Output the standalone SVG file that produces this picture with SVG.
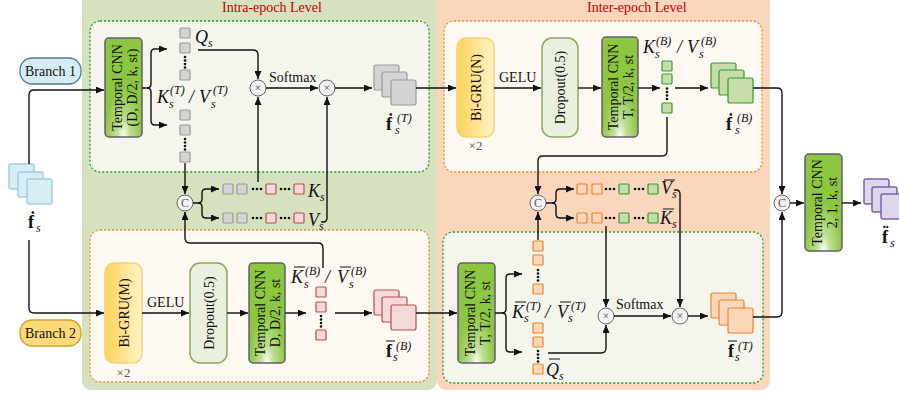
<svg xmlns="http://www.w3.org/2000/svg" width="899" height="396" viewBox="0 0 899 396">
<defs>
<marker id="ah" viewBox="0 0 8 7" refX="8" refY="3.5" markerWidth="8" markerHeight="7" markerUnits="userSpaceOnUse" orient="auto"><path d="M0,0 L8,3.5 L0,7 z" fill="#111"/></marker>
<linearGradient id="gBi" x1="0" y1="0" x2="1" y2="0"><stop offset="0" stop-color="#fdd256"/><stop offset="1" stop-color="#fff3c9"/></linearGradient>
<radialGradient id="gT" cx="0.5" cy="1" r="0.5" fx="0.5" fy="1"><stop offset="0" stop-color="#ffffff"/><stop offset="0.35" stop-color="#bfdf95"/><stop offset="1" stop-color="#8dc641"/></radialGradient>
<style>
text{font-family:"Liberation Serif","Times New Roman",serif;fill:#111}
.conn path{fill:none;stroke:#111;stroke-width:1.4}
.conn .a{marker-end:url(#ah)}
.bt{font-size:14px;text-anchor:middle}
.lbl{font-size:14px}
.x2{font-size:13px;fill:#555;text-anchor:middle}
.ttl{font-size:14px;fill:#c00000}
.mi{font-style:italic;font-size:18px}
.sl{font-size:18px;font-style:italic}
.sb{font-style:italic;font-size:12px}
.bf{font-weight:bold;font-size:18px}
.bar{stroke:#111;stroke-width:1}
.tc{fill:url(#gT);stroke:#5f5f70;stroke-width:1.5}
.bi{fill:url(#gBi);stroke:#f3d47a;stroke-width:1.5}
.dp{fill:#e9f1de;stroke:#89a85e;stroke-width:1.5}
.sg{fill:#d4d4d4;stroke:#9a9a9a;stroke-width:1.2}
.sp{fill:#f3d9d9;stroke:#b5524f;stroke-width:1.2}
.sgr{fill:#c7dca8;stroke:#2ea02e;stroke-width:1.2}
.so{fill:#fcd8bb;stroke:#f08228;stroke-width:1.2}
.sbl{fill:#d9edf4;stroke:#9fd0e2;stroke-width:1.5}
.spu{fill:#ded6ec;stroke:#7b62a8;stroke-width:1.5}
.dot{fill:#111}
.op{fill:#f2f2f2;stroke:#666;stroke-width:1}
.opt{font-size:12px;fill:#555;text-anchor:middle}
.gbox{fill:#f4f6ee;stroke:#1fa01f;stroke-width:1.3;stroke-dasharray:2 2}
.obox{fill:#fdf8f2;stroke:#f08a30;stroke-width:1.3;stroke-dasharray:2 2}
</style>
</defs>

<!-- backgrounds -->
<g id="intra-level">
<rect x="82" y="-10" width="355" height="400" rx="9" fill="#d6e1c0"/>
<text class="ttl" x="222" y="12">Intra-epoch Level</text>
</g>
<g id="inter-level">
<rect x="437" y="-10" width="333" height="400" rx="9" fill="#f9d6bc"/>
<text class="ttl" x="587" y="12">Inter-epoch Level</text>
</g>
<rect class="gbox" x="90" y="21" width="339" height="151" rx="10"/>
<rect class="obox" x="90" y="230" width="339" height="152" rx="10"/>
<rect class="obox" x="444" y="21" width="318" height="151" rx="10"/>
<rect class="gbox" x="443" y="232" width="320" height="151" rx="10"/>

<!-- input -->
<g id="input">
<rect class="sbl" x="9" y="164" width="25" height="25" rx="2"/>
<rect class="sbl" x="18" y="172" width="25" height="25" rx="2"/>
<rect class="sbl" x="27" y="179" width="25" height="25" rx="2"/>
<text class="bf" x="28" y="228">ḟ</text><text class="sb" x="36" y="232">s</text>
</g>
<g id="branch1">
<rect x="20" y="58" width="61" height="26" rx="12" fill="#d6ebf2" stroke="#4d7f8e" stroke-width="1.3"/>
<text class="lbl" x="50.5" y="76" text-anchor="middle" font-size="13.5">Branch 1</text>
</g>
<g id="branch2">
<rect x="20" y="320" width="61" height="26" rx="12" fill="#fbd978" stroke="#c9a133" stroke-width="1.3"/>
<text class="lbl" x="50.5" y="338" text-anchor="middle" font-size="13.5">Branch 2</text>
</g>

<!-- intra top -->
<g id="tcnn-intra">
<rect class="tc" x="105" y="38" width="37" height="99" rx="4"/>
<text class="bt" transform="translate(123.5,87.5) rotate(-90)"><tspan x="0" y="-2">Temporal CNN</tspan><tspan x="0" y="13">(D, D/2, k, st)</tspan></text>
</g>
<g id="q-col">
<rect class="sg" x="180" y="28" width="10" height="10" rx="1"/>
<rect class="sg" x="180" y="43" width="10" height="10" rx="1"/>
<circle class="dot" cx="185" cy="57" r="1.3"/><circle class="dot" cx="185" cy="60.5" r="1.3"/><circle class="dot" cx="185" cy="64" r="1.3"/><circle class="dot" cx="185" cy="67.5" r="1.3"/>
<rect class="sg" x="180" y="70" width="10" height="10" rx="1"/>
<text class="mi" x="195" y="43">Q</text><text class="sb" x="208" y="47">s</text>
</g>
<g id="kv-col">
<rect class="sg" x="180" y="110" width="10" height="10" rx="1"/>
<rect class="sg" x="180" y="125" width="10" height="10" rx="1"/>
<circle class="dot" cx="185" cy="139" r="1.3"/><circle class="dot" cx="185" cy="142.5" r="1.3"/><circle class="dot" cx="185" cy="146" r="1.3"/><circle class="dot" cx="185" cy="149.5" r="1.3"/>
<rect class="sg" x="180" y="152" width="10" height="10" rx="1"/>
<text class="mi" x="157" y="103">K</text><text class="sb" x="169" y="108">s</text><text class="sb" x="170" y="94">(T)</text>
<text class="sl" x="189" y="103">/</text>
<text class="mi" x="199" y="103">V</text><text class="sb" x="211" y="108">s</text><text class="sb" x="213" y="94">(T)</text>
</g>
<g id="mul1"><circle class="op" cx="258" cy="88" r="8"/><text class="opt" x="258" y="92">×</text></g>
<g id="mul2"><circle class="op" cx="327" cy="88" r="8"/><text class="opt" x="327" y="92">×</text></g>
<text class="lbl" x="269" y="82">Softmax</text>
<g id="f-T">
<rect class="sg" x="374" y="65" width="25" height="25" rx="2"/>
<rect class="sg" x="382" y="72" width="25" height="25" rx="2"/>
<rect class="sg" x="391" y="80" width="25" height="25" rx="2"/>
<text class="bf" x="386" y="130">ḟ</text><text class="sb" x="395" y="134">s</text><text class="sb" x="397" y="122">(T)</text>
</g>

<!-- intra concat -->
<g id="concat1"><circle class="op" cx="185" cy="203" r="8"/><text class="opt" x="185" y="207" font-size="10">C</text></g>
<g id="ks-row">
<rect class="sg" x="223" y="184" width="10" height="10" rx="1"/><rect class="sg" x="237" y="184" width="10" height="10" rx="1"/>
<circle class="dot" cx="253" cy="189" r="1.3"/><circle class="dot" cx="257" cy="189" r="1.3"/><circle class="dot" cx="261" cy="189" r="1.3"/>
<rect class="sp" x="266" y="184" width="10" height="10" rx="1"/>
<circle class="dot" cx="281" cy="189" r="1.3"/><circle class="dot" cx="285" cy="189" r="1.3"/><circle class="dot" cx="289" cy="189" r="1.3"/>
<rect class="sp" x="294" y="184" width="10" height="10" rx="1"/>
<text class="mi" x="308" y="197">K</text><text class="sb" x="320" y="201">s</text>
</g>
<g id="vs-row">
<rect class="sg" x="223" y="213" width="10" height="10" rx="1"/><rect class="sg" x="237" y="213" width="10" height="10" rx="1"/>
<circle class="dot" cx="253" cy="218" r="1.3"/><circle class="dot" cx="257" cy="218" r="1.3"/><circle class="dot" cx="261" cy="218" r="1.3"/>
<rect class="sp" x="266" y="213" width="10" height="10" rx="1"/>
<circle class="dot" cx="281" cy="218" r="1.3"/><circle class="dot" cx="285" cy="218" r="1.3"/><circle class="dot" cx="289" cy="218" r="1.3"/>
<rect class="sp" x="294" y="213" width="10" height="10" rx="1"/>
<text class="mi" x="308" y="226">V</text><text class="sb" x="319" y="230">s</text>
</g>

<!-- intra bottom -->
<g id="bigru-m">
<rect class="bi" x="105" y="263" width="37" height="100" rx="9"/>
<text class="bt" transform="translate(123.5,313) rotate(-90)" y="5">Bi-GRU(M)</text>
<text class="x2" x="123.5" y="377">×2</text>
</g>
<text class="lbl" x="147" y="307">GELU</text>
<g id="dropout-m">
<rect class="dp" x="190" y="263" width="37" height="100" rx="10"/>
<text class="bt" transform="translate(208.5,313) rotate(-90)" y="5">Dropout(0.5)</text>
</g>
<g id="tcnn-d">
<rect class="tc" x="249" y="263" width="36" height="100" rx="4"/>
<text class="bt" transform="translate(267,313) rotate(-90)"><tspan x="0" y="-2">Temporal CNN</tspan><tspan x="0" y="13">D, D/2, k, st</tspan></text>
</g>
<g id="kvb-col">
<rect class="sp" x="316" y="287" width="10" height="10" rx="1"/>
<rect class="sp" x="316" y="302" width="10" height="10" rx="1"/>
<circle class="dot" cx="321" cy="316" r="1.3"/><circle class="dot" cx="321" cy="319.5" r="1.3"/><circle class="dot" cx="321" cy="323" r="1.3"/><circle class="dot" cx="321" cy="326.5" r="1.3"/>
<rect class="sp" x="316" y="330" width="10" height="10" rx="1"/>
<text class="mi" x="291" y="283">K</text><line class="bar" x1="294" y1="267" x2="305" y2="267"/><text class="sb" x="304" y="288">s</text><text class="sb" x="305" y="275">(B)</text>
<text class="sl" x="325" y="283">/</text>
<text class="mi" x="337" y="283">V</text><line class="bar" x1="340" y1="267" x2="351" y2="267"/><text class="sb" x="349" y="288">s</text><text class="sb" x="351" y="275">(B)</text>
</g>
<g id="f-B-bar">
<rect class="sp" x="374" y="290" width="25" height="25" rx="2"/>
<rect class="sp" x="382" y="297" width="25" height="25" rx="2"/>
<rect class="sp" x="391" y="305" width="25" height="25" rx="2"/>
<text class="bf" x="386" y="357">f</text><line class="bar" x1="386" y1="341" x2="395" y2="341"/><text class="sb" x="393" y="361">s</text><text class="sb" x="396" y="350">(B)</text>
</g>

<!-- inter top -->
<g id="bigru-n">
<rect class="bi" x="457" y="38" width="37" height="99" rx="9"/>
<text class="bt" transform="translate(475.5,87.5) rotate(-90)" y="5">Bi-GRU(N)</text>
<text class="x2" x="475.5" y="150">×2</text>
</g>
<text class="lbl" x="499" y="82">GELU</text>
<g id="dropout-n">
<rect class="dp" x="542" y="38" width="36" height="99" rx="10"/>
<text class="bt" transform="translate(560,87.5) rotate(-90)" y="5">Dropout(0.5)</text>
</g>
<g id="tcnn-t-top">
<rect class="tc" x="602" y="37" width="36" height="100" rx="4"/>
<text class="bt" transform="translate(620,87) rotate(-90)"><tspan x="0" y="-2">Temporal CNN</tspan><tspan x="0" y="13">T, T/2, k, st</tspan></text>
</g>
<g id="kvB-col">
<rect class="sgr" x="662" y="61" width="10" height="10" rx="1"/>
<rect class="sgr" x="662" y="74" width="10" height="10" rx="1"/>
<circle class="dot" cx="667" cy="88.5" r="1.3"/><circle class="dot" cx="667" cy="92" r="1.3"/><circle class="dot" cx="667" cy="95.5" r="1.3"/><circle class="dot" cx="667" cy="99" r="1.3"/>
<rect class="sgr" x="662" y="103" width="10" height="10" rx="1"/>
<text class="mi" x="643" y="53">K</text><text class="sb" x="655" y="58">s</text><text class="sb" x="656" y="45">(B)</text>
<text class="sl" x="677" y="53">/</text>
<text class="mi" x="687" y="53">V</text><text class="sb" x="699" y="58">s</text><text class="sb" x="701" y="45">(B)</text>
</g>
<g id="f-B">
<rect class="sgr" x="711" y="63" width="25" height="25" rx="2"/>
<rect class="sgr" x="719" y="70" width="25" height="25" rx="2"/>
<rect class="sgr" x="728" y="78" width="25" height="25" rx="2"/>
<text class="bf" x="726" y="130">ḟ</text><text class="sb" x="735" y="134">s</text><text class="sb" x="737" y="122">(B)</text>
</g>

<!-- inter concat -->
<g id="concat2"><circle class="op" cx="538" cy="203" r="8"/><text class="opt" x="538" y="207" font-size="10">C</text></g>
<g id="vbar-row">
<rect class="so" x="577" y="184" width="10" height="10" rx="1"/><rect class="so" x="592" y="184" width="10" height="10" rx="1"/>
<circle class="dot" cx="606" cy="189" r="1.3"/><circle class="dot" cx="610" cy="189" r="1.3"/><circle class="dot" cx="614" cy="189" r="1.3"/>
<rect class="sgr" x="619" y="184" width="10" height="10" rx="1"/>
<circle class="dot" cx="635" cy="189" r="1.3"/><circle class="dot" cx="639" cy="189" r="1.3"/><circle class="dot" cx="643" cy="189" r="1.3"/>
<rect class="sgr" x="648" y="184" width="10" height="10" rx="1"/>
<text class="mi" x="661" y="194">V</text><line class="bar" x1="664" y1="180" x2="675" y2="180"/><text class="sb" x="672" y="198">s</text>
</g>
<g id="kbar-row">
<rect class="so" x="577" y="213" width="10" height="10" rx="1"/><rect class="so" x="592" y="213" width="10" height="10" rx="1"/>
<circle class="dot" cx="606" cy="218" r="1.3"/><circle class="dot" cx="610" cy="218" r="1.3"/><circle class="dot" cx="614" cy="218" r="1.3"/>
<rect class="sgr" x="619" y="213" width="10" height="10" rx="1"/>
<circle class="dot" cx="635" cy="218" r="1.3"/><circle class="dot" cx="639" cy="218" r="1.3"/><circle class="dot" cx="643" cy="218" r="1.3"/>
<rect class="sgr" x="648" y="213" width="10" height="10" rx="1"/>
<text class="mi" x="660" y="224">K</text><line class="bar" x1="663" y1="209" x2="674" y2="209"/><text class="sb" x="672" y="228">s</text>
</g>

<!-- inter bottom -->
<g id="tcnn-t-bottom">
<rect class="tc" x="458" y="263" width="37" height="100" rx="4"/>
<text class="bt" transform="translate(476.5,313) rotate(-90)"><tspan x="0" y="-2">Temporal CNN</tspan><tspan x="0" y="13">T, T/2, k, st</tspan></text>
</g>
<g id="kvT-col">
<rect class="so" x="533" y="241" width="10" height="10" rx="1"/>
<rect class="so" x="533" y="255" width="10" height="10" rx="1"/>
<circle class="dot" cx="538" cy="270" r="1.3"/><circle class="dot" cx="538" cy="273.5" r="1.3"/><circle class="dot" cx="538" cy="277" r="1.3"/><circle class="dot" cx="538" cy="280.5" r="1.3"/>
<rect class="so" x="533" y="284" width="10" height="10" rx="1"/>
<text class="mi" x="512" y="318">K</text><line class="bar" x1="515" y1="302" x2="526" y2="302"/><text class="sb" x="524" y="322">s</text><text class="sb" x="526" y="310">(T)</text>
<text class="sl" x="545" y="318">/</text>
<text class="mi" x="557" y="318">V</text><line class="bar" x1="560" y1="302" x2="571" y2="302"/><text class="sb" x="568" y="322">s</text><text class="sb" x="571" y="310">(T)</text>
</g>
<g id="qbar-col">
<rect class="so" x="533" y="323" width="10" height="10" rx="1"/>
<rect class="so" x="533" y="337" width="10" height="10" rx="1"/>
<circle class="dot" cx="538" cy="351" r="1.3"/><circle class="dot" cx="538" cy="354.5" r="1.3"/><circle class="dot" cx="538" cy="358" r="1.3"/><circle class="dot" cx="538" cy="361.5" r="1.3"/>
<rect class="so" x="533" y="364" width="10" height="10" rx="1"/>
<text class="mi" x="546" y="376">Q</text><line class="bar" x1="549" y1="359" x2="560" y2="359"/><text class="sb" x="559" y="380">s</text>
</g>
<g id="mul3"><circle class="op" cx="606" cy="316" r="8"/><text class="opt" x="606" y="320">×</text></g>
<g id="mul4"><circle class="op" cx="680" cy="316" r="8"/><text class="opt" x="680" y="320">×</text></g>
<text class="lbl" x="616" y="309">Softmax</text>
<g id="f-T-bar">
<rect class="so" x="711" y="293" width="25" height="25" rx="2"/>
<rect class="so" x="719" y="300" width="25" height="25" rx="2"/>
<rect class="so" x="728" y="308" width="25" height="25" rx="2"/>
<text class="bf" x="728" y="357">f</text><line class="bar" x1="728" y1="341" x2="737" y2="341"/><text class="sb" x="735" y="361">s</text><text class="sb" x="738" y="350">(T)</text>
</g>

<!-- output -->
<g id="concat3"><circle class="op" cx="782" cy="203" r="8"/><text class="opt" x="782" y="207" font-size="10">C</text></g>
<g id="tcnn-out">
<rect class="tc" x="805" y="154" width="37" height="97" rx="4"/>
<text class="bt" transform="translate(823.5,202.5) rotate(-90)"><tspan x="0" y="-2">Temporal CNN</tspan><tspan x="0" y="13">2, 1, k, st</tspan></text>
</g>
<g id="output">
<rect class="spu" x="864" y="179" width="25" height="25" rx="2"/>
<rect class="spu" x="872" y="187" width="25" height="25" rx="2"/>
<rect class="spu" x="881" y="194" width="25" height="25" rx="2"/>
<text class="bf" x="882" y="243">f̈</text><text class="sb" x="890" y="247">s</text>
</g>

<g id="connectors" class="conn">
<path class="a" d="M29,164 V95 Q29,90 34,90 H104"/>
<path class="a" d="M29,240 V308 Q29,313 34,313 H104"/>
<path class="a" d="M142,88 H147 Q151,88 151,84 V53 Q151,49 155,49 H167"/>
<path class="a" d="M147,88 Q151,88 151,92 V121 Q151,125 155,125 H167"/>
<path class="a" d="M198,50 H253 Q258,50 258,55 V79"/>
<path class="a" d="M266,88 H318"/>
<path class="a" d="M335,88 H372"/>
<path class="a" d="M416,88 H456"/>
<path class="a" d="M185,163 V194"/>
<path class="a" d="M193,203 H198 Q202,203 202,199 V193 Q202,189 206,189 H219"/>
<path class="a" d="M198,203 Q202,203 202,207 V214 Q202,218 206,218 H219"/>
<path class="a" d="M258,182 V97"/>
<path class="a" d="M321,222 H323 Q327,222 327,218 V97"/>
<path class="a" d="M323,268 V248 Q323,243 318,243 H190 Q185,243 185,238 V212"/>
<path class="a" d="M142,313 H189"/>
<path class="a" d="M227,313 H248"/>
<path class="a" d="M285,313 H306"/>
<path class="a" d="M335,313 H372"/>
<path class="a" d="M416,313 H457"/>
<path class="a" d="M494,88 H541"/>
<path class="a" d="M578,88 H601"/>
<path class="a" d="M638,88 H660"/>
<path class="a" d="M675,88 H708"/>
<path class="a" d="M753,88 H777 Q782,88 782,93 V194"/>
<path class="a" d="M667,117 V151 Q667,156 662,156 H543 Q538,156 538,161 V194"/>
<path class="a" d="M546,203 H552 Q556,203 556,199 V193 Q556,189 560,189 H574"/>
<path class="a" d="M552,203 Q556,203 556,207 V214 Q556,218 560,218 H574"/>
<path class="a" d="M538,240 V212"/>
<path class="a" d="M495,313 H502 Q506,313 506,309 V278 Q506,274 510,274 H522"/>
<path class="a" d="M502,313 Q506,313 506,317 V348 Q506,352 510,352 H522"/>
<path class="a" d="M548,353 H601 Q606,353 606,348 V325"/>
<path class="a" d="M606,226 V307"/>
<path class="a" d="M614,316 H671"/>
<path class="a" d="M674,190 H676 Q680,190 680,194 V307"/>
<path class="a" d="M688,316 H708"/>
<path class="a" d="M753,317 H777 Q782,317 782,312 V212"/>
<path class="a" d="M790,203 H804"/>
<path class="a" d="M842,203 H861"/>
</g>
</svg>
